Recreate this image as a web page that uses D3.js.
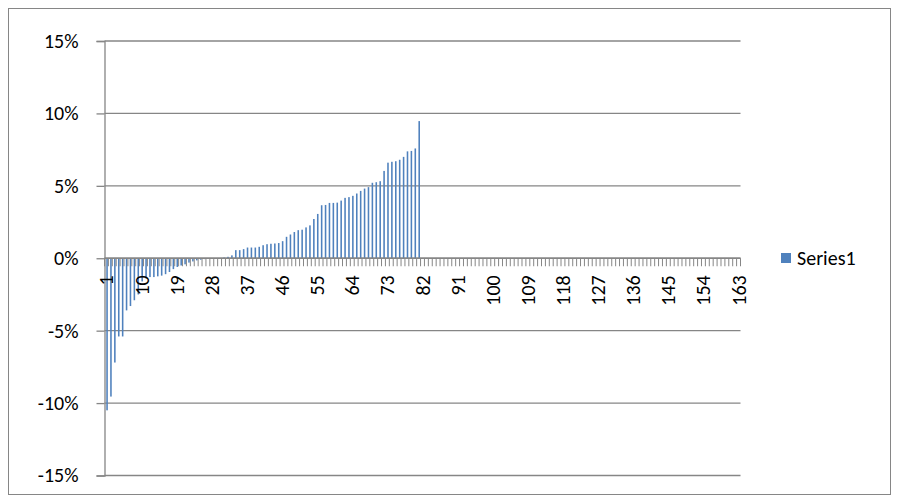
<!DOCTYPE html>
<html>
<head>
<meta charset="utf-8">
<script src="https://cdn.jsdelivr.net/npm/d3@7"></script>
<style>
  html, body { margin: 0; padding: 0; background: #fff; }
  svg { display: block; }
  text { font-family: Carlito, Calibri, Lato, "Open Sans", sans-serif; fill: #000; }
</style>
</head>
<body>
<svg id="chart" width="899" height="502"></svg>
<script>
// ---- data ----
const categories = d3.range(1, 164).map(String);
const seriesName = "Series1";
const values = [
  -10.5, -9.55, -7.2, -5.4, -5.4, -3.6, -3.3, -2.9, -2.5, -1.6,
  -1.4, -1.3, -1.3, -1.25, -1.2, -1.1, -0.95, -0.75, -0.6, -0.5,
  -0.42, -0.3, -0.22, -0.15, -0.1, -0.06, -0.03, 0, 0, 0,
  0.05, 0.1, 0.2, 0.56, 0.56, 0.63, 0.74, 0.74, 0.74, 0.79,
  0.9, 0.97, 1.0, 1.02, 1.05, 1.18, 1.48, 1.64, 1.81, 1.94,
  1.97, 2.13, 2.27, 2.71, 3.06, 3.66, 3.68, 3.82, 3.82, 3.84,
  3.98, 4.17, 4.22, 4.31, 4.47, 4.65, 4.81, 4.91, 5.21, 5.25,
  5.32, 6.03, 6.6, 6.66, 6.7, 6.8, 7.0, 7.38, 7.41, 7.58,
  9.47, 0, 0, 0, 0, 0, 0, 0, 0, 0,
  0, 0, 0, 0, 0, 0, 0, 0, 0, 0,
  0, 0, 0, 0, 0, 0, 0, 0, 0, 0,
  0, 0, 0, 0, 0, 0, 0, 0, 0, 0,
  0, 0, 0, 0, 0, 0, 0, 0, 0, 0,
  0, 0, 0, 0, 0, 0, 0, 0, 0, 0,
  0, 0, 0, 0, 0, 0, 0, 0, 0, 0,
  0, 0, 0, 0, 0, 0, 0, 0, 0, 0,
  0, 0, 0
];
const yTicks = [-15, -10, -5, 0, 5, 10, 15];
const xTickLabels = ["1","10","19","28","37","46","55","64","73","82","91","100","109","118","127","136","145","154","163"];

// ---- layout ----
const svg = d3.select("#chart");
const plot = { left: 104.5, right: 740.5, top: 41, bottom: 475.5 };
const gridColor = "#868686";
const barColor = "#4F81BD";
const fontSize = "20px";

svg.append("rect")
  .attr("x", 8.5).attr("y", 8.5).attr("width", 882).attr("height", 486)
  .attr("fill", "#fff").attr("stroke", gridColor).attr("stroke-width", 1);

const x = d3.scaleBand().domain(categories).range([plot.left, plot.right]).padding(0);
const y = d3.scaleLinear().domain([-15, 15]).range([plot.bottom, plot.top]);

// gridlines
svg.append("g").selectAll("line").data(yTicks).join("line")
  .attr("x1", plot.left).attr("x2", plot.right)
  .attr("y1", d => y(d)).attr("y2", d => y(d))
  .attr("stroke", gridColor).attr("stroke-width", 1.3);

// y axis
const yAxis = d3.axisLeft(y).tickValues(yTicks).tickSize(8).tickPadding(18)
  .tickFormat(d => d + "%");
const gy = svg.append("g").attr("transform", `translate(${plot.left},0)`).call(yAxis);
gy.select(".domain").attr("stroke", gridColor).attr("stroke-width", 1.3);
gy.selectAll(".tick line").attr("stroke", gridColor).attr("stroke-width", 1.3);
gy.selectAll("text").style("font-size", fontSize).attr("fill", "#000");

// bars
const bw = x.bandwidth() / 2.5;
const data = categories.map((c, i) => ({ c, v: values[i] }));
svg.append("g").selectAll("rect").data(data).join("rect")
  .attr("x", d => x(d.c) + (x.bandwidth() - bw) / 2 + 0.6)
  .attr("width", bw)
  .attr("y", d => Math.min(y(d.v), y(0)))
  .attr("height", d => Math.abs(y(d.v) - y(0)))
  .attr("fill", barColor);

// x axis line + category tick marks
const gx = svg.append("g");
gx.append("line")
  .attr("x1", plot.left).attr("x2", plot.right)
  .attr("y1", y(0)).attr("y2", y(0))
  .attr("stroke", gridColor).attr("stroke-width", 1.3);
const boundaries = categories.map(c => x(c)).concat([x(categories[categories.length - 1]) + x.bandwidth()]);
gx.selectAll("line.tk").data(boundaries).join("line").attr("class", "tk")
  .attr("x1", d => d).attr("x2", d => d)
  .attr("y1", y(0)).attr("y2", y(0) + 8)
  .attr("stroke", gridColor).attr("stroke-width", 1);

// x tick labels
const xAxis = d3.axisBottom(x).tickValues(xTickLabels).tickSize(0).tickPadding(0);
const gxl = svg.append("g").attr("transform", `translate(0,${y(0)})`).call(xAxis);
gxl.select(".domain").remove();
gxl.selectAll("text")
  .style("font-size", fontSize).attr("fill", "#000")
  .attr("text-anchor", "end")
  .attr("transform", "rotate(-90)")
  .attr("x", -17).attr("y", 0).attr("dy", "0.35em");

// legend
const lg = svg.append("g").attr("transform", "translate(781,253)");
lg.append("rect").attr("width", 10).attr("height", 10).attr("fill", barColor);
lg.append("text").attr("x", 16).attr("y", 5).attr("dy", "0.35em")
  .style("font-size", fontSize).text(seriesName);
</script>
</body>
</html>
